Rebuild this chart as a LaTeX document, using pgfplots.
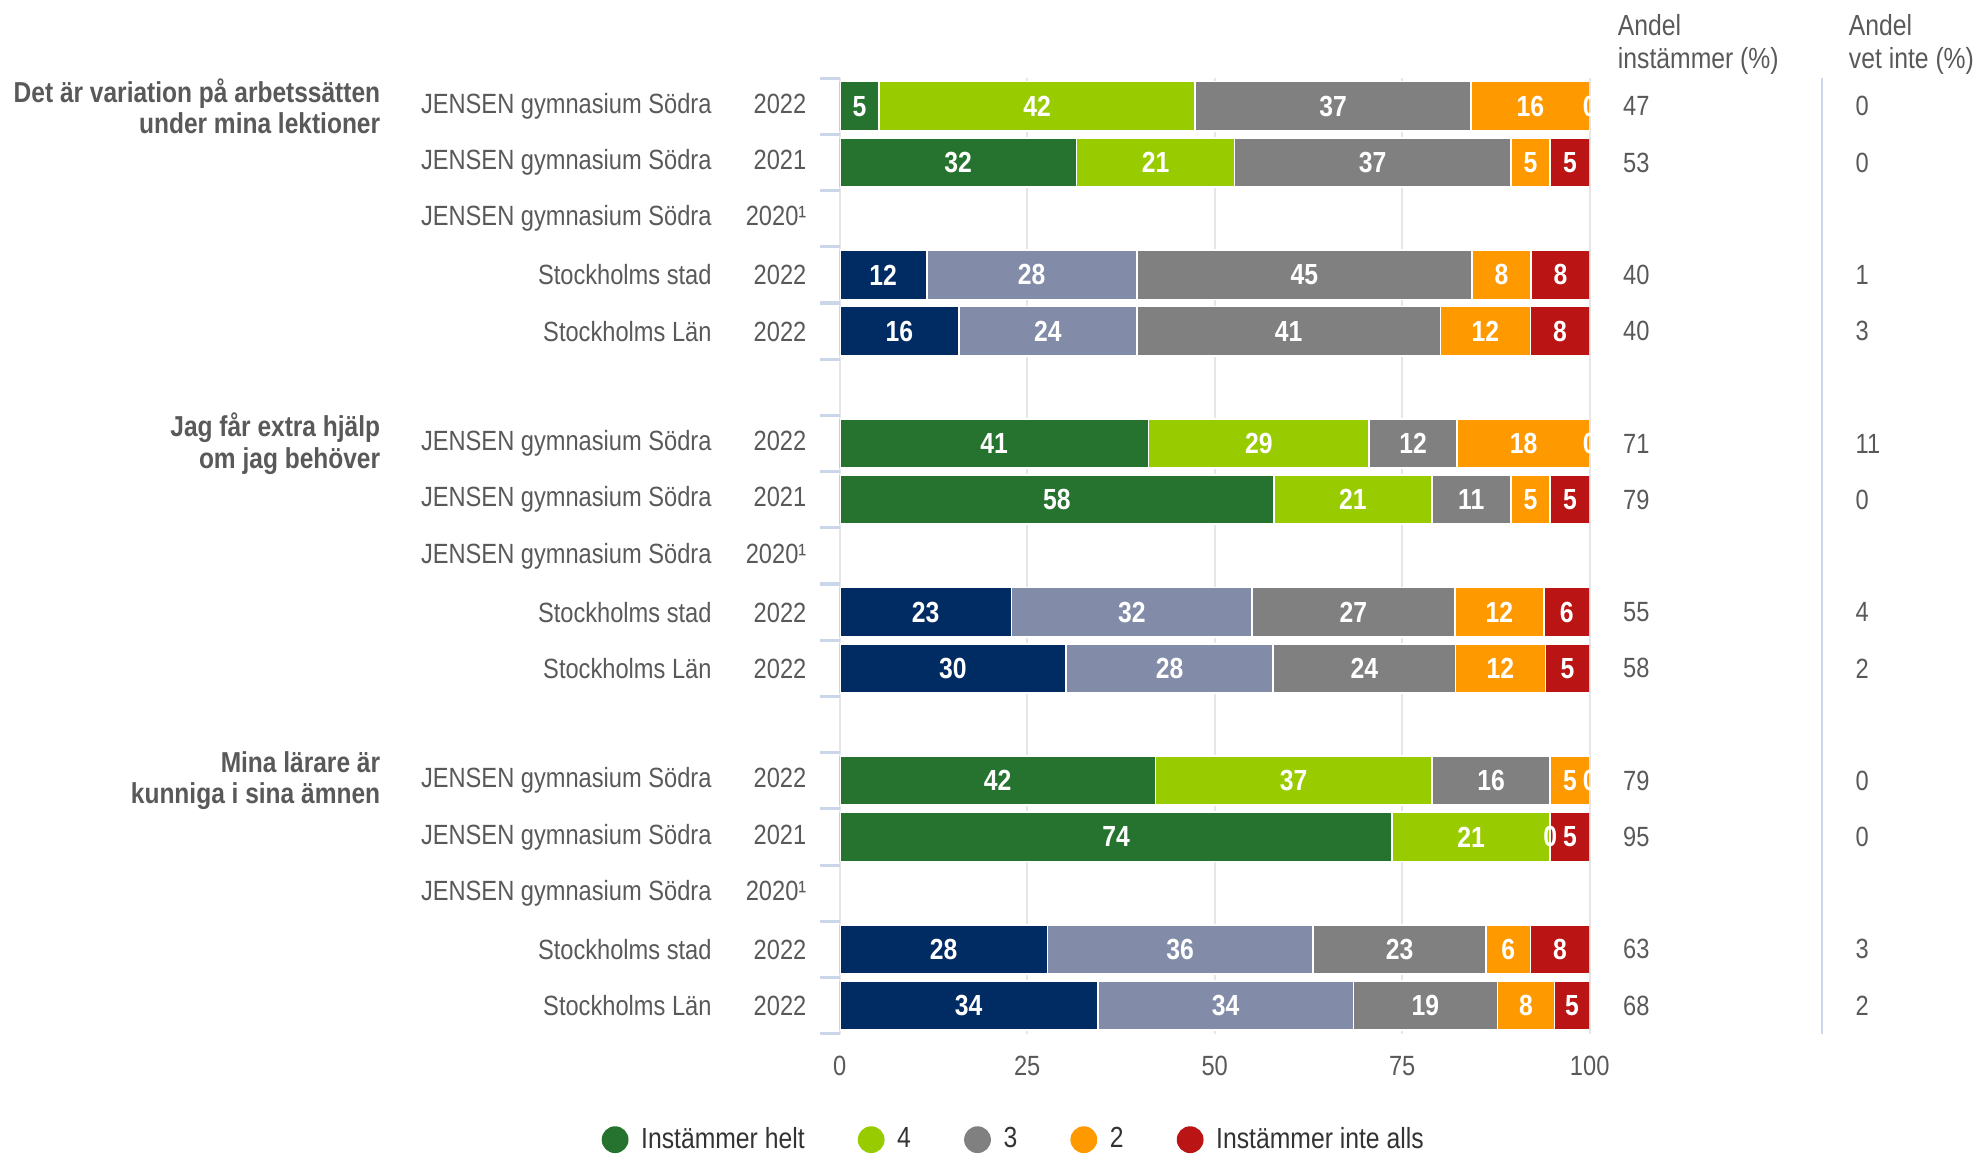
\documentclass[border=0pt]{standalone}
\usepackage{pgfplots}
\pgfplotsset{compat=1.18}
\usepackage{pgfplotstable}
\usepackage{fontspec}
\setmainfont{Liberation Sans}[FakeStretch=0.85]
\definecolor{cg}{HTML}{267330}
\definecolor{clg}{HTML}{99CC00}
\definecolor{cgr}{HTML}{808080}
\definecolor{cor}{HTML}{FF9900}
\definecolor{cre}{HTML}{BB1414}
\definecolor{cnv}{HTML}{002B63}
\definecolor{csl}{HTML}{828CA8}
\definecolor{gridc}{HTML}{E6E6E6}
\definecolor{axc}{HTML}{CCD6EB}
\definecolor{txt}{HTML}{595959}
\definecolor{txtd}{HTML}{333333}

% JENSEN rows (y = row index)
\pgfplotstableread{
y val lab
0 5.26 5
1 31.58 32
6 41.18 41
7 57.89 58
12 42.11 42
13 73.68 74
}\JA
\pgfplotstableread{
y val lab
0 42.11 42
1 21.05 21
6 29.41 29
7 21.05 21
12 36.84 37
13 21.05 21
}\JB
\pgfplotstableread{
y val lab
0 36.84 37
1 36.84 37
6 11.76 12
7 10.53 11
12 15.79 16
13 0 0
}\JC
\pgfplotstableread{
y val lab
0 15.79 16
1 5.26 5
6 17.65 18
7 5.26 5
12 5.26 5
13 0 0
}\JD
\pgfplotstableread{
y val lab
0 0 0
1 5.26 5
6 0 0
7 5.26 5
12 0 0
13 5.26 5
}\JE
% labels of the zero-width segments (position = end of the stack before them)
\pgfplotstableread{
y pos lab
0 100 0
6 100 0
12 100 0
13 94.74 0
}\JZ
% Stockholm rows
\pgfplotstableread{
y val lab
3 11.6 12
4 15.9 16
9 22.9 23
10 30.2 30
15 27.7 28
16 34.4 34
}\SA
\pgfplotstableread{
y val lab
3 28.0 28
4 23.7 24
9 32.1 32
10 27.6 28
15 35.4 36
16 34.1 34
}\SB
\pgfplotstableread{
y val lab
3 44.7 45
4 40.5 41
9 27.0 27
10 24.3 24
15 23.1 23
16 19.2 19
}\SC
\pgfplotstableread{
y val lab
3 7.9 8
4 12.0 12
9 11.9 12
10 12.0 12
15 5.9 6
16 7.6 8
}\SD
\pgfplotstableread{
y val lab
3 7.8 8
4 7.9 8
9 6.1 6
10 5.9 5
15 7.9 8
16 4.7 5
}\SE
% right columns
\pgfplotstableread{
y a v
0 47 0
1 53 0
3 40 1
4 40 3
6 71 11
7 79 0
9 55 4
10 58 2
12 79 0
13 95 0
15 63 3
16 68 2
}\RC

\pgfplotsset{
  base/.style={scale only axis, width=296.5pt, height=377.75pt,
    at={(332pt,47.35pt)}, anchor=south west,
    xmin=0, xmax=100, ymin=-0.5, ymax=16.5, y dir=reverse},
  bars/.style={xbar stacked, bar width=19.5pt,
    nodes near coords={\pgfplotspointmeta}, point meta=explicit symbolic,
    every node near coord/.append style={anchor=center,
      text=white, font=\fontsize{11.5}{12}\selectfont\bfseries, inner sep=0pt}},
  seg/.style={fill=#1, draw=white, line width=0.7pt},
}
\newcommand{\rl}[2]{#1\makebox[37.5pt][r]{#2}}

\begin{document}
\begin{tikzpicture}
\useasboundingbox (0,0) rectangle (784pt,456pt);
% main axis with grid, labels and JENSEN bars
\begin{axis}[base, bars,
  axis line style={draw=none},
  xtick={0,25,50,75,100}, xmajorgrids, grid style={color=gridc, line width=0.8pt},
  xtick style={draw=none},
  xticklabel style={anchor=center, yshift=-12.85pt, inner sep=0pt, text=txt,
    font=\fontsize{11}{12}\selectfont},
  /pgf/number format/assume math mode=true,
  ytick pos=left,
  ytick={0,1,2,3,4,6,7,8,9,10,12,13,14,15,16},
  yticklabels={\rl{JENSEN gymnasium Södra}{2022},\rl{JENSEN gymnasium Södra}{2021},\rl{JENSEN gymnasium Södra}{2020¹},\rl{Stockholms stad}{2022},\rl{Stockholms Län}{2022},
    \rl{JENSEN gymnasium Södra}{2022},\rl{JENSEN gymnasium Södra}{2021},\rl{JENSEN gymnasium Södra}{2020¹},\rl{Stockholms stad}{2022},\rl{Stockholms Län}{2022},
    \rl{JENSEN gymnasium Södra}{2022},\rl{JENSEN gymnasium Södra}{2021},\rl{JENSEN gymnasium Södra}{2020¹},\rl{Stockholms stad}{2022},\rl{Stockholms Län}{2022}},
  ytick style={draw=none},
  yticklabel style={anchor=east, xshift=-13pt, inner sep=0pt, text=txt,
    font=\fontsize{11}{12}\selectfont},
  extra y ticks={-0.5,0.5,1.5,2.5,3.5,4.5,5.5,6.5,7.5,8.5,9.5,10.5,11.5,12.5,13.5,14.5,15.5,16.5},
  extra y tick labels={},
  extra y tick style={ytick style={draw=axc, line width=1.2pt}, tick align=outside, major tick length=8pt, ytick pos=left},
  legend columns=5,
  legend style={at={(0.234,-0.111)}, anchor=center, draw=none, fill=none,
    font=\fontsize{11.5}{12}\selectfont, text=txtd,
    /tikz/every odd column/.append style={column sep=3pt},
    /tikz/every even column/.append style={column sep=19pt}},
  legend image code/.code={\fill[#1, draw=none] (0pt,0pt) circle (5.3pt);},
]
\addplot[seg=cg] table[x=val, y=y, meta=lab] {\JA};
\addplot[seg=clg] table[x=val, y=y, meta=lab] {\JB};
\addplot[seg=cgr] table[x=val, y=y, meta=lab] {\JC};
\addplot[seg=cor] table[x=val, y=y, meta=lab] {\JD};
\addplot[seg=cre] table[x=val, y=y, meta=lab] {\JE};
\legend{Instämmer helt, 4, 3, 2, Instämmer inte alls}
\end{axis}
% Stockholm bars
\begin{axis}[base, bars, hide axis]
\addplot[seg=cnv] table[x=val, y=y, meta=lab] {\SA};
\addplot[seg=csl] table[x=val, y=y, meta=lab] {\SB};
\addplot[seg=cgr] table[x=val, y=y, meta=lab] {\SC};
\addplot[seg=cor] table[x=val, y=y, meta=lab] {\SD};
\addplot[seg=cre] table[x=val, y=y, meta=lab] {\SE};
\end{axis}
% right columns, headers, titles
\begin{axis}[base, hide axis, clip=false]
\addplot[draw=none, nodes near coords={\pgfplotspointmeta}, point meta=explicit symbolic,
  every node near coord/.append style={anchor=center, inner sep=0pt, text=white, font=\fontsize{11.5}{12}\selectfont\bfseries}]
  table[x=pos, y=y, meta=lab] {\JZ};
\addplot[draw=none, nodes near coords={\pgfplotspointmeta}, point meta=explicit symbolic,
  every node near coord/.append style={anchor=west, inner sep=0pt, text=txt, font=\fontsize{11}{12}\selectfont}]
  table[x expr=104.4, y=y, meta=a] {\RC};
\addplot[draw=none, nodes near coords={\pgfplotspointmeta}, point meta=explicit symbolic,
  every node near coord/.append style={anchor=west, inner sep=0pt, text=txt, font=\fontsize{11}{12}\selectfont}]
  table[x expr=135.4, y=y, meta=v] {\RC};
\draw[axc, line width=1pt] (axis cs:131,-0.5) -- (axis cs:131,16.5);
\node[anchor=base west, inner sep=0pt, text=txt, font=\fontsize{11.5}{12}\selectfont, yshift=16.9pt] at (axis cs:103.7,-0.5) {Andel};
\node[anchor=base west, inner sep=0pt, text=txt, font=\fontsize{11.5}{12}\selectfont, yshift=3.9pt] at (axis cs:103.7,-0.5) {instämmer (\%)};
\node[anchor=base west, inner sep=0pt, text=txt, font=\fontsize{11.5}{12}\selectfont, yshift=16.9pt] at (axis cs:134.5,-0.5) {Andel};
\node[anchor=base west, inner sep=0pt, text=txt, font=\fontsize{11.5}{12}\selectfont, yshift=3.9pt] at (axis cs:134.5,-0.5) {vet inte (\%)};
\node[anchor=east, align=right, inner sep=0pt, text=txt, font=\fontsize{11.4}{12.5}\selectfont\bfseries, xshift=-181.5pt] at (axis cs:0,0) {Det är variation på arbetssätten\\under mina lektioner};
\node[anchor=east, align=right, inner sep=0pt, text=txt, font=\fontsize{11.4}{12.5}\selectfont\bfseries, xshift=-181.5pt] at (axis cs:0,6) {Jag får extra hjälp\\om jag behöver};
\node[anchor=east, align=right, inner sep=0pt, text=txt, font=\fontsize{11.4}{12.5}\selectfont\bfseries, xshift=-181.5pt] at (axis cs:0,12) {Mina lärare är\\kunniga i sina ämnen};
\end{axis}
\end{tikzpicture}
\end{document}
